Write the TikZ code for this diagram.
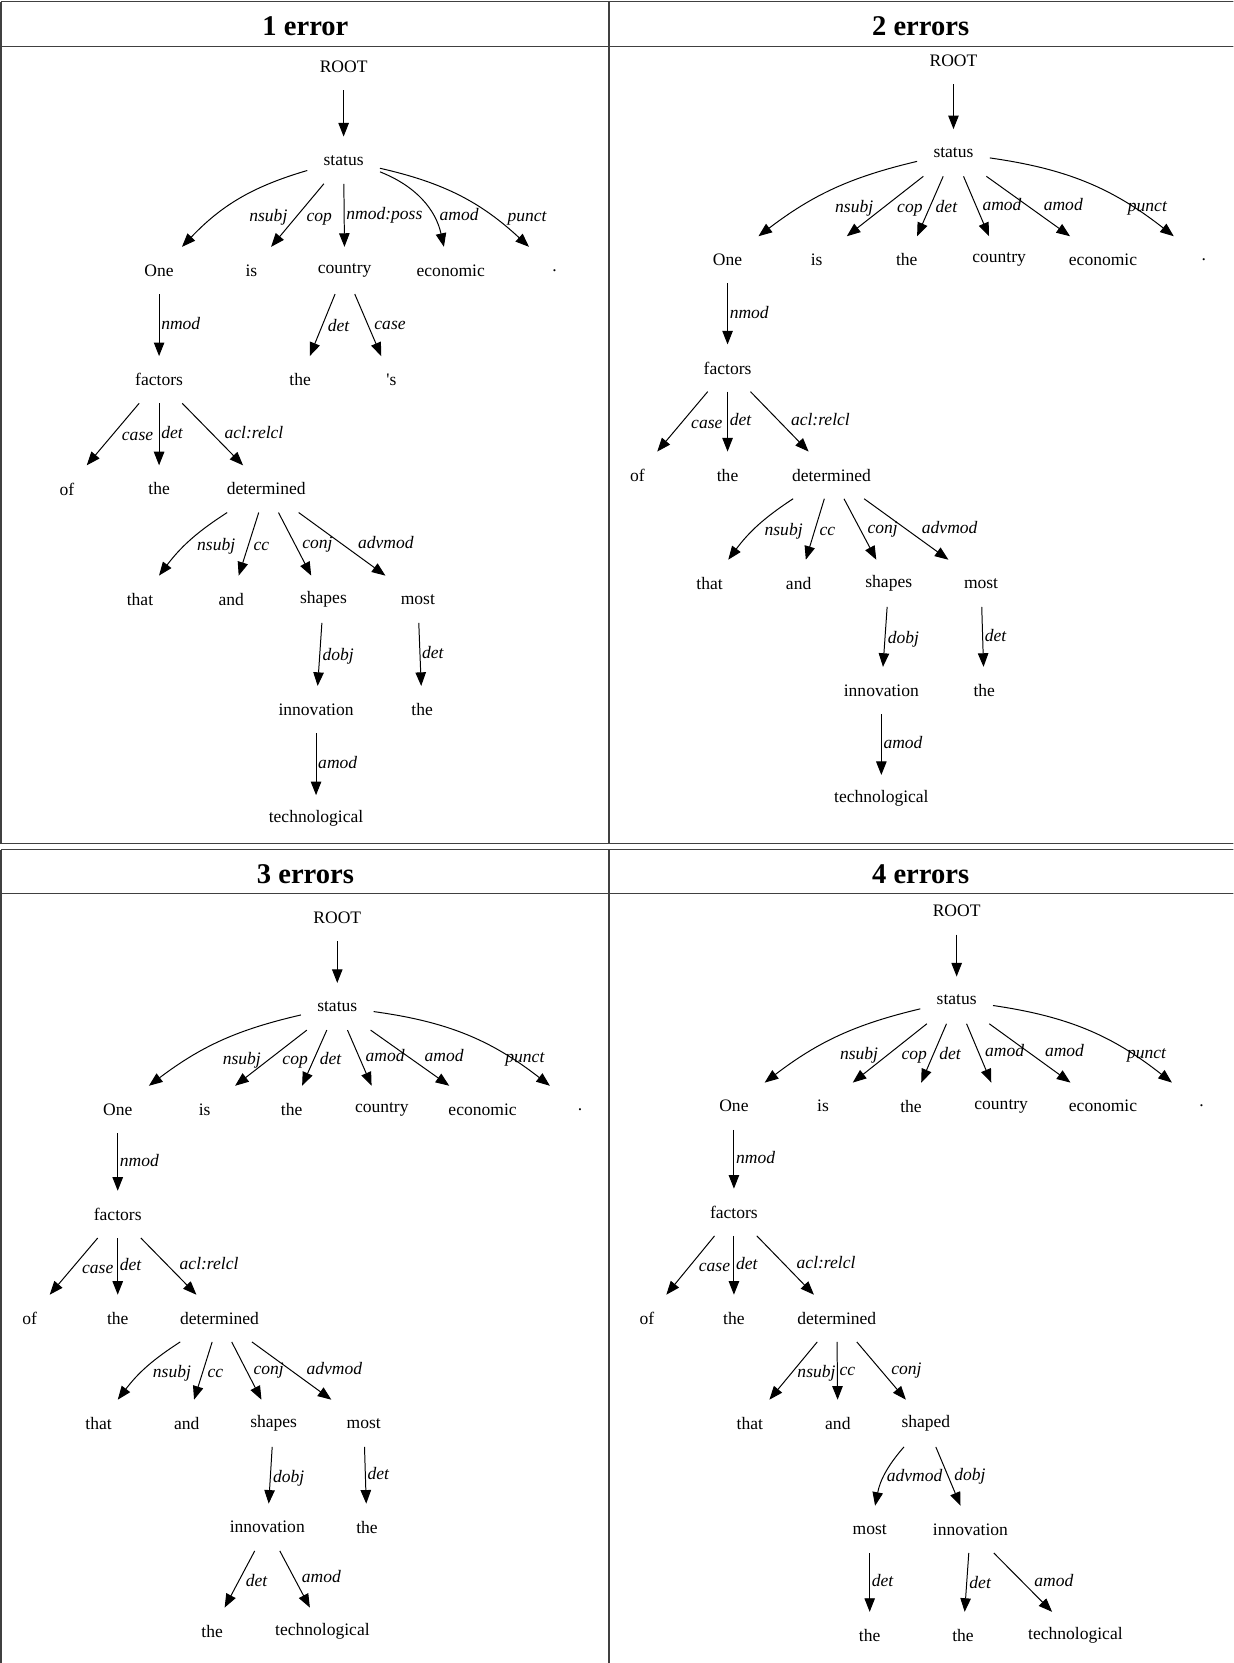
\documentclass[tikz,border=0pt]{standalone}
\usepackage{fontspec}
\setmainfont{Liberation Serif}
\usetikzlibrary{positioning,arrows.meta}

\tikzset{
  word/.style={minimum width=51pt,minimum height=33pt,inner xsep=7.5pt,inner ysep=0pt,font=\fontsize{12.4}{14}\selectfont},
  dep/.style={-{Triangle[length=9.6pt,width=7.4pt]},line width=0.7pt},
  lab/.style={font=\fontsize{12.4}{14}\selectfont\itshape,inner sep=1.2pt,text height=8.5pt,text depth=2.5pt},
  lv/.style={lab,anchor=west,pos=0.5},
  lw/.style={lab,anchor=north west,pos=0.37},
  le/.style={lab,anchor=south west,pos=0.66},
  lsubj/.style={lw,pos=.55,xshift=5pt,yshift=-4pt},
  lpunct/.style={le,pos=.8,xshift=-9pt,yshift=-5pt},
  head/.style={font=\fontsize{20.2}{24}\selectfont\bfseries},
  frame/.style={draw=black!75,line width=1.1pt}
}

\begin{document}
\begin{tikzpicture}[x=0.75pt,y=0.75pt]
\useasboundingbox (0,0) rectangle (1163,-1568);
\clip (0,0) rectangle (1163,-1568);

\draw[frame] (1,-1.5) -- (1175,-1.5) (1,-44) -- (1175,-44) (1,-795.5) -- (1175,-795.5);
\draw[frame] (1,-1.5) -- (1,-795.5) (574,-1.5) -- (574,-795.5);
\draw[frame] (1,-801) -- (1175,-801) (1,-842.5) -- (1175,-842.5);
\draw[frame] (1,-801) -- (1,-1580) (574,-801) -- (574,-1580);

\node[head] (h1) at (288,-25) {1 error};
\node[head] (h2) at (868,-25) {2 errors};
\node[head] (h3) at (288,-824) {3 errors};
\node[head] (h4) at (868,-824) {4 errors};

\node[word] (aroot) at (324,-63) {ROOT};
\node[word] (astatus) at (324,-151) {status};
\node[word] (aone) at (150,-255) {One};
\node[word] (ais) at (237,-255) {is};
\node[word] (acountry) at (325,-255) {country};
\node[word] (aeco) at (425,-255) {economic};
\node[word] (adot) at (523,-255) {.};
\node[word] (afactors) at (150,-358) {factors};
\node[word] (athea) at (283,-358) {the};
\node[word] (aposs) at (369,-358) {\textquotesingle s};
\node[word] (aof) at (63,-461) {of};
\node[word] (atheb) at (150,-461) {the};
\node[word] (adet) at (251,-461) {determined};
\node[word] (athat) at (132,-565) {that};
\node[word] (aand) at (218,-565) {and};
\node[word] (ashapes) at (305,-565) {shapes};
\node[word] (amost) at (394,-565) {most};
\node[word] (ainno) at (298,-669) {innovation};
\node[word] (athec) at (398,-669) {the};
\node[word] (atech) at (298,-772) {technological};

\draw[dep] (aroot) -- (astatus);
\draw[dep] (astatus) to[bend right=15] node[lsubj,xshift=5pt,yshift=1pt] {nsubj} (aone);
\draw[dep] (astatus) -- node[lw] {cop} (ais);
\draw[dep] (astatus) -- node[lv] {nmod:poss} (acountry);
\draw[dep] (astatus) to[bend left=28] node[le,pos=.8] {amod} (aeco);
\draw[dep] (astatus) to[bend left=15] node[le,pos=.8,xshift=3pt,yshift=-3pt] {punct} (adot);
\draw[dep] (aone) -- node[lv] {nmod} (afactors);
\draw[dep] (acountry) -- node[lw] {det} (athea);
\draw[dep] (acountry) -- node[le] {case} (aposs);
\draw[dep] (afactors) -- node[lw] {case} (aof);
\draw[dep] (afactors) -- node[lv] {det} (atheb);
\draw[dep] (afactors) -- node[le] {acl:relcl} (adet);
\draw[dep] (adet) to[bend right=10] node[lw,pos=.42] {nsubj} (athat);
\draw[dep] (adet) -- node[lw] {cc} (aand);
\draw[dep] (adet) -- node[le] {conj} (ashapes);
\draw[dep] (adet) -- node[le] {advmod} (amost);
\draw[dep] (ashapes) -- node[lw] {dobj} (ainno);
\draw[dep] (amost) -- node[lv] {det} (athec);
\draw[dep] (ainno) -- node[lv] {amod} (atech);

\node[word] (broot) at (899,-57) {ROOT};
\node[word] (bstatus) at (899,-144) {status};
\node[word] (bone) at (686,-245) {One};
\node[word] (bis) at (770,-245) {is};
\node[word] (bthea) at (855,-245) {the};
\node[word] (bcountry) at (942,-245) {country};
\node[word] (beco) at (1040,-245) {economic};
\node[word] (bdot) at (1135,-245) {.};
\node[word] (bfactors) at (686,-347) {factors};
\node[word] (bof) at (601,-448) {of};
\node[word] (btheb) at (686,-448) {the};
\node[word] (bdet) at (784,-448) {determined};
\node[word] (bthat) at (669,-550) {that};
\node[word] (band) at (753,-550) {and};
\node[word] (bshapes) at (838,-550) {shapes};
\node[word] (bmost) at (925,-550) {most};
\node[word] (binno) at (831,-651) {innovation};
\node[word] (bthec) at (928,-651) {the};
\node[word] (btech) at (831,-753) {technological};

\draw[dep] (broot) -- (bstatus);
\draw[dep] (bstatus) to[bend right=12] node[lsubj] {nsubj} (bone);
\draw[dep] (bstatus) -- node[lw] {cop} (bis);
\draw[dep] (bstatus) -- node[lw] {det} (bthea);
\draw[dep] (bstatus) -- node[le] {amod} (bcountry);
\draw[dep] (bstatus) -- node[le] {amod} (beco);
\draw[dep] (bstatus) to[bend left=15] node[lpunct] {punct} (bdot);
\draw[dep] (bone) -- node[lv] {nmod} (bfactors);
\draw[dep] (bfactors) -- node[lw] {case} (bof);
\draw[dep] (bfactors) -- node[lv] {det} (btheb);
\draw[dep] (bfactors) -- node[le] {acl:relcl} (bdet);
\draw[dep] (bdet) to[bend right=10] node[lw,pos=.42] {nsubj} (bthat);
\draw[dep] (bdet) -- node[lw] {cc} (band);
\draw[dep] (bdet) -- node[le] {conj} (bshapes);
\draw[dep] (bdet) -- node[le] {advmod} (bmost);
\draw[dep] (bshapes) -- node[lw] {dobj} (binno);
\draw[dep] (bmost) -- node[lv] {det} (bthec);
\draw[dep] (binno) -- node[lv] {amod} (btech);

\node[word] (croot) at (318,-865) {ROOT};
\node[word] (cstatus) at (318,-949) {status};
\node[word] (cone) at (111,-1046) {One};
\node[word] (cis) at (193,-1046) {is};
\node[word] (cthea) at (275,-1046) {the};
\node[word] (ccountry) at (360,-1046) {country};
\node[word] (ceco) at (455,-1046) {economic};
\node[word] (cdot) at (547,-1046) {.};
\node[word] (cfactors) at (111,-1145) {factors};
\node[word] (cof) at (28,-1243) {of};
\node[word] (ctheb) at (111,-1243) {the};
\node[word] (cdet) at (207,-1243) {determined};
\node[word] (cthat) at (93,-1342) {that};
\node[word] (cand) at (176,-1342) {and};
\node[word] (cshapes) at (258,-1342) {shapes};
\node[word] (cmost) at (343,-1342) {most};
\node[word] (cinno) at (252,-1440) {innovation};
\node[word] (cthec) at (346,-1440) {the};
\node[word] (cthed) at (200,-1538) {the};
\node[word] (ctech) at (304,-1538) {technological};

\draw[dep] (croot) -- (cstatus);
\draw[dep] (cstatus) to[bend right=12] node[lsubj] {nsubj} (cone);
\draw[dep] (cstatus) -- node[lw] {cop} (cis);
\draw[dep] (cstatus) -- node[lw] {det} (cthea);
\draw[dep] (cstatus) -- node[le] {amod} (ccountry);
\draw[dep] (cstatus) -- node[le] {amod} (ceco);
\draw[dep] (cstatus) to[bend left=15] node[lpunct] {punct} (cdot);
\draw[dep] (cone) -- node[lv] {nmod} (cfactors);
\draw[dep] (cfactors) -- node[lw] {case} (cof);
\draw[dep] (cfactors) -- node[lv] {det} (ctheb);
\draw[dep] (cfactors) -- node[le] {acl:relcl} (cdet);
\draw[dep] (cdet) to[bend right=10] node[lw,pos=.42] {nsubj} (cthat);
\draw[dep] (cdet) -- node[lw] {cc} (cand);
\draw[dep] (cdet) -- node[le] {conj} (cshapes);
\draw[dep] (cdet) -- node[le] {advmod} (cmost);
\draw[dep] (cshapes) -- node[lw] {dobj} (cinno);
\draw[dep] (cmost) -- node[lv] {det} (cthec);
\draw[dep] (cinno) -- node[lw] {det} (cthed);
\draw[dep] (cinno) -- node[le] {amod} (ctech);

\node[word] (droot) at (902,-859) {ROOT};
\node[word] (dstatus) at (902,-943) {status};
\node[word] (done) at (692,-1043) {One};
\node[word] (dis) at (776,-1043) {is};
\node[word] (dthea) at (859,-1043) {the};
\node[word] (dcountry) at (944,-1043) {country};
\node[word] (deco) at (1040,-1043) {economic};
\node[word] (ddot) at (1133,-1043) {.};
\node[word] (dfactors) at (692,-1143) {factors};
\node[word] (dof) at (610,-1243) {of};
\node[word] (dtheb) at (692,-1243) {the};
\node[word] (ddet) at (789,-1243) {determined};
\node[word] (dthat) at (707,-1342) {that};
\node[word] (dand) at (790,-1342) {and};
\node[word] (dshaped) at (873,-1342) {shaped};
\node[word] (dmost) at (820,-1442) {most};
\node[word] (dinno) at (915,-1442) {innovation};
\node[word] (dthec) at (820,-1542) {the};
\node[word] (dthed) at (908,-1542) {the};
\node[word] (dtech) at (1014,-1542) {technological};

\draw[dep] (droot) -- (dstatus);
\draw[dep] (dstatus) to[bend right=12] node[lsubj] {nsubj} (done);
\draw[dep] (dstatus) -- node[lw] {cop} (dis);
\draw[dep] (dstatus) -- node[lw] {det} (dthea);
\draw[dep] (dstatus) -- node[le] {amod} (dcountry);
\draw[dep] (dstatus) -- node[le] {amod} (deco);
\draw[dep] (dstatus) to[bend left=15] node[lpunct] {punct} (ddot);
\draw[dep] (done) -- node[lv] {nmod} (dfactors);
\draw[dep] (dfactors) -- node[lw] {case} (dof);
\draw[dep] (dfactors) -- node[lv] {det} (dtheb);
\draw[dep] (dfactors) -- node[le] {acl:relcl} (ddet);
\draw[dep] (ddet) -- node[lw,xshift=-3pt] {nsubj} (dthat);
\draw[dep] (ddet) -- node[lv] {cc} (dand);
\draw[dep] (ddet) -- node[le] {conj} (dshaped);
\draw[dep] (dshaped) to[bend right=15] node[lw,xshift=-3pt] {advmod} (dmost);
\draw[dep] (dshaped) -- node[le] {dobj} (dinno);
\draw[dep] (dmost) -- node[lv] {det} (dthec);
\draw[dep] (dinno) -- node[lw] {det} (dthed);
\draw[dep] (dinno) -- node[le] {amod} (dtech);
\end{tikzpicture}
\end{document}
